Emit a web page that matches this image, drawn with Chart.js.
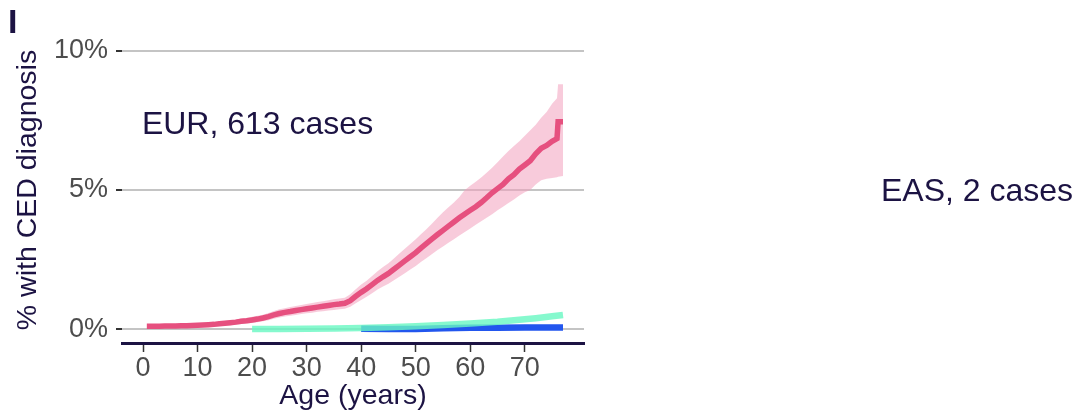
<!DOCTYPE html>
<html><head><meta charset="utf-8">
<script src="https://cdn.jsdelivr.net/npm/chart.js@4/dist/chart.umd.min.js"></script>
<style>html,body{margin:0;padding:0;background:#fff}#wrap{position:relative;width:1085px;height:416px}</style>
</head><body><div id="wrap"><canvas id="c" width="1085" height="416"></canvas></div>
<script>
// ---- data ----
const eurAges = [0.7,2,3,4,5,6,7,8,9,10,11,12,13,14,15,16,17,18,19,20,21,22,23,24,25,26,27,28,29,30,31,32,33,34,35,36,37,38,39,40,41,42,43,44,45,46,47,48,49,50,51,52,53,54,55,56,57,58,59,60,61,62,63,64,65,66,67,68,69,70,71,72,73,74,75,75.9,76.1,77];
const eurPct = [0.10,0.10,0.10,0.11,0.11,0.11,0.12,0.12,0.13,0.14,0.15,0.16,0.17,0.19,0.21,0.23,0.25,0.28,0.30,0.33,0.36,0.40,0.45,0.51,0.56,0.60,0.63,0.67,0.70,0.73,0.76,0.79,0.82,0.85,0.88,0.90,0.93,1.02,1.18,1.32,1.45,1.60,1.75,1.88,2.00,2.15,2.30,2.45,2.60,2.75,2.92,3.08,3.24,3.40,3.55,3.70,3.85,4.00,4.14,4.27,4.40,4.55,4.72,4.90,5.05,5.20,5.40,5.55,5.75,5.90,6.05,6.30,6.50,6.60,6.75,6.85,7.45,7.45];
const eurLower = [0.04,0.04,0.05,0.05,0.05,0.05,0.06,0.06,0.07,0.07,0.08,0.09,0.10,0.11,0.13,0.14,0.16,0.18,0.20,0.22,0.25,0.28,0.32,0.37,0.42,0.45,0.48,0.51,0.54,0.57,0.59,0.62,0.64,0.67,0.69,0.71,0.73,0.80,0.93,1.05,1.16,1.29,1.42,1.53,1.63,1.76,1.88,2.01,2.14,2.27,2.42,2.56,2.70,2.84,2.97,3.10,3.23,3.36,3.49,3.62,3.75,3.88,4.00,4.13,4.27,4.40,4.53,4.66,4.80,4.92,5.00,5.20,5.35,5.40,5.43,5.46,5.48,5.50];
const eurUpper = [0.17,0.17,0.17,0.18,0.18,0.18,0.19,0.19,0.20,0.21,0.22,0.23,0.25,0.27,0.29,0.32,0.34,0.38,0.40,0.44,0.48,0.52,0.58,0.65,0.71,0.75,0.79,0.83,0.87,0.90,0.94,0.97,1.00,1.04,1.07,1.10,1.13,1.25,1.43,1.60,1.74,1.91,2.08,2.23,2.37,2.54,2.72,2.89,3.06,3.23,3.42,3.60,3.80,4.00,4.20,4.38,4.55,4.75,5.00,5.15,5.30,5.45,5.62,5.80,6.00,6.20,6.40,6.58,6.75,6.95,7.15,7.35,7.60,7.80,8.10,8.30,8.80,8.80];
const greenAges = [20,25,30,35,40,45,50,55,60,65,70,72,75,77];
const greenPct = [0.00,0.00,0.01,0.02,0.04,0.07,0.10,0.15,0.20,0.26,0.35,0.39,0.46,0.51];
const blueAges = [40,45,47,50,55,60,65,70,77];
const bluePct = [0.01,0.00,0.00,0.00,0.03,0.05,0.05,0.06,0.06];
const xTicks = [0,10,20,30,40,50,60,70];
const yTicks = [0,5,10];
const noteTexts = ['EUR, 613 cases','EAS, 2 cases'];
const noteAges = [-0.2, 135.3];
const notePcts = [7.44, 5.0];
const panelLabel = 'I';

const NAVY = '#1c1343';
const FONT = '"Liberation Sans", Arial, sans-serif';
const pts = (xs, ys) => xs.map((a, i) => ({x: a, y: ys[i]}));

const notesPlugin = {
  id: 'notes',
  afterDraw(chart) {
    const {ctx, scales: {x, y}} = chart;
    ctx.save();
    ctx.fillStyle = NAVY;
    ctx.textAlign = 'left';
    ctx.textBaseline = 'alphabetic';
    const fs = 32;
    ctx.font = fs + 'px ' + FONT;
    noteTexts.forEach((t, i) => {
      ctx.fillText(t, x.getPixelForValue(noteAges[i]), y.getPixelForValue(notePcts[i]) + 0.358 * fs);
    });
    ctx.font = 'bold 34px ' + FONT;
    ctx.fillText(panelLabel, 8, 33);
    ctx.restore();
  }
};

new Chart(document.getElementById('c'), {
  type: 'line',
  data: {
    datasets: [
      {label: 'EUR lower', data: pts(eurAges, eurLower), borderWidth: 0, pointRadius: 0, fill: false, order: 10, borderColor: 'rgba(0,0,0,0)', tension: 0},
      {label: 'EUR upper', data: pts(eurAges, eurUpper), borderWidth: 0, pointRadius: 0, fill: '-1', backgroundColor: 'rgba(242,160,190,0.55)', order: 9, borderColor: 'rgba(0,0,0,0)', tension: 0},
      {label: 'Blue', data: pts(blueAges, bluePct), borderColor: '#2256ee', borderWidth: 6.5, pointRadius: 0, fill: false, order: 4, borderCapStyle: 'butt'},
      {label: 'Green', data: pts(greenAges, greenPct), borderColor: 'rgba(104,247,194,0.8)', borderWidth: 6.5, pointRadius: 0, fill: false, order: 3, borderCapStyle: 'butt'},
      {label: 'EUR', data: pts(eurAges, eurPct), borderColor: '#e6507f', borderWidth: 5.5, pointRadius: 0, fill: false, order: 1, borderCapStyle: 'butt', borderJoinStyle: 'miter', tension: 0}
    ]
  },
  options: {
    responsive: false,
    animation: false,
    events: [],
    layout: {padding: {left: 0, right: 501, top: 37, bottom: 0}},
    plugins: {legend: {display: false}, tooltip: {enabled: false}},
    scales: {
      x: {
        type: 'linear', min: -3.85, max: 80.85,
        afterFit(s) { s.height = 73; },
        afterBuildTicks(s) { s.ticks = xTicks.map(v => ({value: v})); },
        grid: {drawOnChartArea: false, drawTicks: true, tickLength: 9, tickColor: '#333333', tickWidth: 1.5},
        border: {display: true, color: NAVY, width: 3},
        ticks: {color: '#4d4d4d', font: {family: FONT, size: 27}, padding: 0, maxRotation: 0, autoSkip: false},
        title: {display: true, text: 'Age (years)', color: NAVY, font: {family: FONT, size: 28.5}, padding: {top: 0, bottom: 2.5}}
      },
      y: {
        type: 'linear', min: -0.5, max: 10.5,
        afterFit(s) { s.width = 122; },
        afterBuildTicks(s) { s.ticks = yTicks.map(v => ({value: v})); },
        grid: {drawOnChartArea: true, drawTicks: true, tickLength: 6, color: '#c4c4c4', lineWidth: 2, tickColor: '#333333', tickWidth: 2},
        border: {display: false},
        ticks: {color: '#4d4d4d', font: {family: FONT, size: 27}, padding: 8, callback: v => v + '%', autoSkip: false},
        title: {display: true, text: '% with CED diagnosis', color: NAVY, font: {family: FONT, size: 28.5}, padding: {top: 11, bottom: 0}}
      }
    }
  },
  plugins: [notesPlugin]
});
</script>
</body></html>
